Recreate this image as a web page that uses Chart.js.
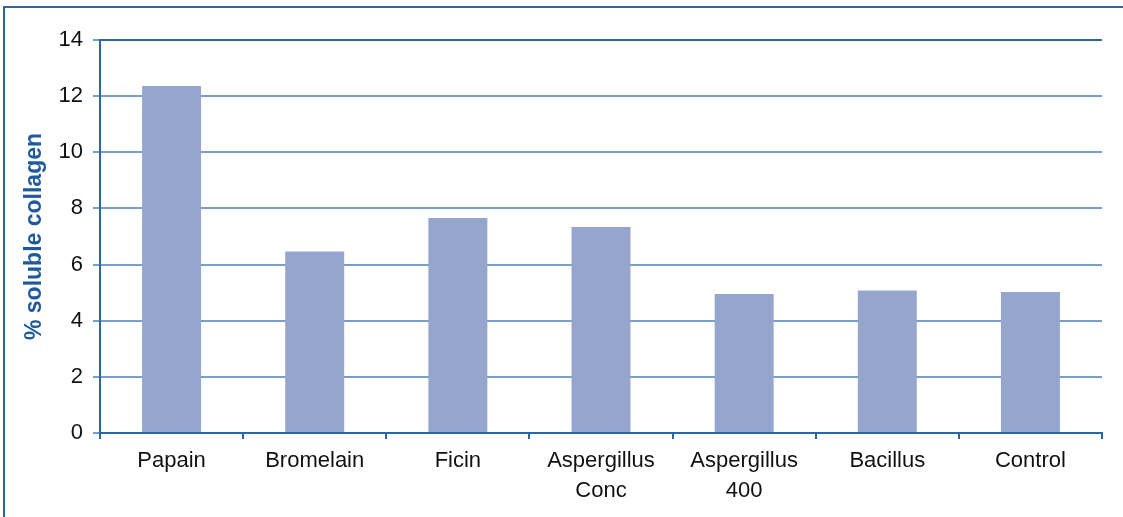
<!DOCTYPE html>
<html>
<head>
<meta charset="utf-8">
<script src="https://cdn.jsdelivr.net/npm/chart.js@4/dist/chart.umd.min.js"></script>
<style>
  html, body { margin: 0; padding: 0; background: #fff; }
  #wrap { position: relative; width: 1123px; height: 517px; overflow: hidden; }
  #frame {
    position: absolute; left: 3px; top: 6px; width: 1200px; height: 600px;
    border: 2px solid #2c66a6; box-sizing: border-box;
  }
  canvas { position: absolute; left: 0; top: 0; }
</style>
</head>
<body>
<div id="wrap">
  <div id="frame"></div>
  <canvas id="chart" width="1123" height="517"></canvas>
</div>
<script>
// Categories and values
const categories = ['Papain', 'Bromelain', 'Ficin', ['Aspergillus', 'Conc'], ['Aspergillus', '400'], 'Bacillus', 'Control'];
const solubleCollagen = [12.36, 6.47, 7.66, 7.34, 4.95, 5.08, 5.02];
const yTicks = [0, 2, 4, 6, 8, 10, 12, 14];

const axisBlue = '#2c66a6';
const gridBlue = '#7c9ec6';
const barColor = '#96a5cc';

Chart.defaults.font.family = '"Liberation Sans", Arial, sans-serif';

const ctx = document.getElementById('chart');
new Chart(ctx, {
  type: 'bar',
  data: {
    labels: categories,
    datasets: [
      {
        label: '% soluble collagen',
        data: solubleCollagen,
        backgroundColor: barColor,
        borderWidth: 0,
        barPercentage: 0.412,
        categoryPercentage: 1,
      },
    ],
  },
  options: {
    responsive: false,
    animation: false,
    layout: { padding: { left: 0, top: 40, right: 21, bottom: 0 } },
    plugins: {
      legend: { display: false },
      tooltip: { enabled: false },
    },
    scales: {
      x: {
        grid: {
          offset: true,
          drawOnChartArea: true,
          color: (c) => (c.index === categories.length ? axisBlue : 'rgba(0,0,0,0)'),
          tickColor: axisBlue,
          tickLength: 6,
          lineWidth: 2,
        },
        border: { color: axisBlue, width: 2 },
        ticks: {
          color: '#111',
          font: { size: 22, lineHeight: 1.36 },
          padding: 7,
          maxRotation: 0,
          autoSkip: false,
        },
        afterFit: (scale) => { scale.height = 84; },
      },
      y: {
        min: 0,
        max: 14,
        afterBuildTicks: (scale) => { scale.ticks = yTicks.map((v) => ({ value: v })); },
        grid: {
          color: (c) => (c.tick && c.tick.value === 14 ? axisBlue : gridBlue),
          tickColor: gridBlue,
          tickLength: 7,
          lineWidth: 2,
        },
        border: { color: axisBlue, width: 2 },
        ticks: {
          color: '#111',
          font: { size: 22 },
          padding: 10,
        },
        title: {
          display: true,
          text: '% soluble collagen',
          color: '#1f5a9e',
          font: { size: 23, weight: 'bold' },
          padding: { top: 21, bottom: 0 },
        },
        afterFit: (scale) => { scale.width = 100; },
      },
    },
  },
});
</script>
</body>
</html>
